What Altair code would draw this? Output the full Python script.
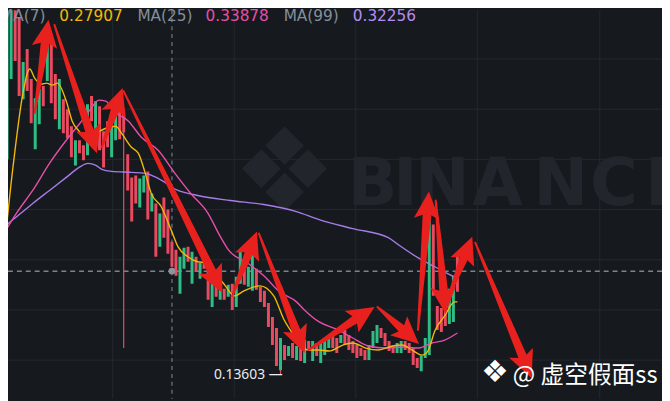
import math
import altair as alt
import pandas as pd

# ---------------- data ----------------
opens = [0.245, 0.350, 0.430, 0.515, 0.491, 0.410, 0.460, 0.430, 0.360, 0.385,
         0.423, 0.428, 0.469, 0.435, 0.380, 0.410, 0.400, 0.383, 0.344, 0.369,
         0.364, 0.354, 0.413, 0.376, 0.403, 0.378, 0.388, 0.352, 0.369, 0.400,
         0.399, 0.355, 0.332, 0.334, 0.302, 0.317, 0.338, 0.298, 0.306, 0.263,
         0.312, 0.300, 0.268, 0.260, 0.216, 0.241, 0.263, 0.226, 0.253, 0.231,
         0.260, 0.240, 0.203, 0.226, 0.210, 0.221, 0.213, 0.226, 0.203, 0.226,
         0.241, 0.223, 0.219, 0.241, 0.223, 0.219, 0.207, 0.193, 0.182, 0.140,
         0.165, 0.154, 0.167, 0.150, 0.164, 0.147, 0.169, 0.149, 0.167, 0.147,
         0.155, 0.162, 0.177, 0.172, 0.167, 0.180, 0.175, 0.169, 0.165, 0.162,
         0.160, 0.150, 0.162, 0.167, 0.182, 0.177, 0.169, 0.164, 0.157, 0.157,
         0.169, 0.167, 0.162, 0.152, 0.139, 0.152, 0.155, 0.285, 0.204, 0.202,
         0.209, 0.186, 0.188, 0.253]
closes = [0.400, 0.515, 0.515, 0.448, 0.413, 0.447, 0.418, 0.386, 0.411, 0.420,
          0.403, 0.464, 0.406, 0.390, 0.430, 0.376, 0.371, 0.352, 0.369, 0.356,
          0.349, 0.405, 0.388, 0.408, 0.359, 0.342, 0.362, 0.385, 0.405, 0.370,
          0.377, 0.319, 0.288, 0.306, 0.331, 0.334, 0.290, 0.316, 0.253, 0.296,
          0.272, 0.256, 0.243, 0.234, 0.253, 0.262, 0.248, 0.258, 0.238, 0.247,
          0.241, 0.210, 0.231, 0.213, 0.225, 0.210, 0.225, 0.200, 0.233, 0.259,
          0.225, 0.243, 0.255, 0.220, 0.208, 0.203, 0.183, 0.165, 0.144, 0.172,
          0.150, 0.164, 0.152, 0.164, 0.149, 0.170, 0.159, 0.169, 0.154, 0.167,
          0.170, 0.175, 0.162, 0.157, 0.175, 0.165, 0.160, 0.157, 0.152, 0.154,
          0.150, 0.165, 0.179, 0.185, 0.172, 0.164, 0.159, 0.157, 0.167, 0.169,
          0.160, 0.157, 0.145, 0.142, 0.154, 0.172, 0.296, 0.214, 0.180, 0.178,
          0.184, 0.221, 0.234, 0.218]

wick_idx = [30, 69]
wick_high = [0.402, 0.172]
wick_low = [0.162, 0.13603]

ma7_i = [-0.74, 0.0, 2.46, 4.91, 6.63, 7.86, 9.58, 10.81, 12.29, 13.51, 15.72, 17.20,
         18.92, 20.64, 23.10, 25.55, 28.01, 29.48, 31.94, 33.66, 35.38, 36.86, 39.31,
         41.77, 43.49, 45.95, 48.40, 50.86, 53.32, 55.28, 57.49, 59.95, 63.88, 67.32,
         69.78, 72.24, 73.71, 76.17, 78.62, 81.08, 84.52, 86.98, 90.17, 93.37, 96.81,
         99.26, 101.72, 104.18, 105.65, 107.37, 109.83, 112.29, 113.0]
ma7_v = [0.230, 0.253, 0.342, 0.415, 0.440, 0.431, 0.425, 0.426, 0.424, 0.426, 0.408, 0.388,
         0.378, 0.371, 0.376, 0.381, 0.383, 0.376, 0.362, 0.356, 0.336, 0.316, 0.303,
         0.280, 0.263, 0.253, 0.248, 0.247, 0.234, 0.224, 0.214, 0.219, 0.224, 0.214,
         0.191, 0.175, 0.165, 0.160, 0.160, 0.159, 0.165, 0.167, 0.162, 0.160, 0.164,
         0.165, 0.160, 0.155, 0.159, 0.179, 0.194, 0.208, 0.208]

ma25_i = [-0.74, 3.44, 7.37, 11.55, 15.72, 18.92, 21.38, 23.83, 25.55, 27.52, 31.2,
          34.4, 38.57, 42.75, 46.68, 50.86, 54.05, 56.0, 60.69, 64.86, 68.80, 72.97,
          74.69, 78.62, 82.80, 86.98, 90.91, 95.09, 99.26, 103.19, 106.63, 109.83, 113.0]
ma25_v = [0.270, 0.297, 0.319, 0.346, 0.369, 0.385, 0.398, 0.409, 0.408, 0.398, 0.388,
          0.372, 0.359, 0.336, 0.316, 0.297, 0.273, 0.260, 0.247, 0.234, 0.218, 0.208,
          0.201, 0.188, 0.181, 0.172, 0.164, 0.162, 0.163, 0.162, 0.167, 0.170, 0.177]

ma99_i = [-0.74, 3.44, 7.37, 11.55, 15.72, 18.92, 21.13, 23.10, 24.57, 27.03, 31.94,
          35.38, 38.57, 43.49, 48.40, 56.51, 64.86, 72.97, 78.62, 86.98, 95.82, 98.28,
          103.19, 107.37, 112.29, 113.0]
ma99_v = [0.280, 0.293, 0.306, 0.319, 0.332, 0.342, 0.346, 0.344, 0.340, 0.338, 0.337,
          0.336, 0.331, 0.319, 0.314, 0.309, 0.305, 0.298, 0.290, 0.281, 0.272, 0.265,
          0.252, 0.243, 0.233, 0.232]

# hand-drawn red arrows: tail (index, price) -> tip (index, price)
arrow_x0 = [7.86, 12.78, 24.57, 29.98, 57.0, 63.64, 75.92, 93.12, 103.19, 107.6, 110.57, 117.44]
arrow_y0 = [0.396, 0.484, 0.362, 0.418, 0.214, 0.276, 0.160, 0.203, 0.180, 0.309, 0.211, 0.267]
arrow_x1 = [11.3, 23.34, 29.73, 54.55, 63.14, 75.0, 92.38, 103.44, 105.9, 110.07, 116.7, 131.45]
arrow_y1 = [0.489, 0.356, 0.421, 0.217, 0.278, 0.157, 0.203, 0.166, 0.318, 0.196, 0.273, 0.132]

price_grid = [0.15, 0.20, 0.25, 0.30, 0.35, 0.40, 0.45]
time_grid = [27.27, 57.49, 87.72, 117.94, 148.4]
cross_i = 42
cross_price = 0.2386
low_label = "0.13603 —"

legend_txt = ["MA(7)", "0.27907", "MA(25)", "0.33878", "MA(99)", "0.32256"]
wm_letters = ["B", "I", "N", "A", "N", "C", "E"]

# ---------------- styling ----------------
BG = "#161a1e"
GRID = "#252930"
UP = "#2ebd85"
DOWN = "#ea4a60"
C7, C25, C99 = "#f0b90b", "#e64ea9", "#a77be8"
ARROW = "#e8211e"
W, H = 662, 393
PX_I, PX_P = 4.07, 1016.0
HEAD_LEN = 28.0
HEAD_PATH = "M0,0 L0.82,1.75 L0,1.4 L-0.82,1.75 Z"

xs = alt.Scale(domain=[1.2285, 163.88], nice=False, zero=False)
ys = alt.Scale(domain=[0.11161, 0.49843], nice=False, zero=False)

n = len(opens)
cdf = pd.DataFrame({"i": list(range(n)), "open": opens, "close": closes})
cdf["dir"] = ["up" if c >= o else "down" for o, c in zip(opens, closes)]
wdf = pd.DataFrame({"i": wick_idx, "hi": wick_high, "lo": wick_low})


def ma_df(ii, vv):
    return pd.DataFrame({"i": ii, "v": vv})


# arrows: tapered shaft (trail) + rotated head (custom symbol)
rows, heads = [], []
for a, (x0, y0, x1, y1) in enumerate(zip(arrow_x0, arrow_y0, arrow_x1, arrow_y1)):
    sx = (x1 - x0) * PX_I
    sy = -(y1 - y0) * PX_P
    L = math.hypot(sx, sy)
    f = max(0.0, 1 - (HEAD_LEN * 0.75) / L)
    rows.append((a, 0, x0, y0, 2.0))
    rows.append((a, 1, x0 + (x1 - x0) * f, y0 + (y1 - y0) * f, 9.0))
    ang = math.degrees(math.atan2(sx, -sy)) % 360
    heads.append((a, x1, y1, ang))
adf = pd.DataFrame(rows, columns=["a", "k", "x", "y", "w"])
hdf = pd.DataFrame(heads, columns=["a", "x", "y", "ang"])

one = pd.DataFrame({"z": [0]})

vgrid = alt.Chart(pd.DataFrame({"i": time_grid})).mark_rule(color=GRID, strokeWidth=1).encode(
    x=alt.X("i:Q", scale=xs, axis=None))
hgrid = alt.Chart(pd.DataFrame({"p": price_grid})).mark_rule(color=GRID, strokeWidth=1).encode(
    y=alt.Y("p:Q", scale=ys, axis=None))

wm_x = [344, 390, 412, 470, 532, 589, 645]
wm_text = alt.Chart(pd.DataFrame({"t": wm_letters, "x": wm_x})).mark_text(
    font="DejaVu Sans", fontWeight="bold", fontSize=66, color="#22262c", align="left",
    baseline="alphabetic").encode(x=alt.X("x:Q", scale=None), y=alt.value(197), text="t:N")
wm_logo = alt.Chart(one).mark_text(text="❖", font="DejaVu Sans", fontSize=118,
                                   color="#22262c", align="center",
                                   baseline="middle").encode(x=alt.value(280), y=alt.value(168))

cross_v = alt.Chart(pd.DataFrame({"i": [cross_i]})).mark_rule(
    color="#5e6673", strokeWidth=1.5, strokeDash=[4, 4]).encode(x=alt.X("i:Q", scale=xs, axis=None))
cross_h = alt.Chart(pd.DataFrame({"p": [cross_price]})).mark_rule(
    color="#7d838c", strokeWidth=1.5, strokeDash=[5, 4]).encode(y=alt.Y("p:Q", scale=ys, axis=None))
cross_dot = alt.Chart(pd.DataFrame({"i": [cross_i], "p": [cross_price]})).mark_circle(
    size=45, color="#8e949c", opacity=1).encode(
    x=alt.X("i:Q", scale=xs, axis=None), y=alt.Y("p:Q", scale=ys, axis=None))

wicks = alt.Chart(wdf).mark_rule(strokeWidth=1.2, clip=True).encode(
    x=alt.X("i:Q", scale=xs, axis=None),
    y=alt.Y("lo:Q", scale=ys, axis=None), y2="hi:Q",
    color=alt.value(DOWN))
bodies = alt.Chart(cdf).mark_rule(strokeWidth=3, clip=True).encode(
    x=alt.X("i:Q", scale=xs, axis=None),
    y=alt.Y("open:Q", scale=ys, axis=None), y2="close:Q",
    color=alt.Color("dir:N", scale=alt.Scale(domain=["up", "down"], range=[UP, DOWN]), legend=None))


def ma_line(ii, vv, col):
    return alt.Chart(ma_df(ii, vv)).mark_line(strokeWidth=1.4, color=col, clip=True,
                                              interpolate="monotone").encode(
        x=alt.X("i:Q", scale=xs, axis=None), y=alt.Y("v:Q", scale=ys, axis=None))


l99 = ma_line(ma99_i, ma99_v, C99)
l25 = ma_line(ma25_i, ma25_v, C25)
l7 = ma_line(ma7_i, ma7_v, C7)

low_lbl = alt.Chart(pd.DataFrame({"i": [69], "p": [0.13603], "t": [low_label]})).mark_text(
    align="right", baseline="middle", dx=2, dy=1, fontSize=14, font="Noto Sans",
    color="#eaecef").encode(x=alt.X("i:Q", scale=xs, axis=None),
                            y=alt.Y("p:Q", scale=ys, axis=None), text="t:N")

shafts = alt.Chart(adf).mark_trail(color=ARROW, clip=True).encode(
    x=alt.X("x:Q", scale=xs, axis=None), y=alt.Y("y:Q", scale=ys, axis=None),
    size=alt.Size("w:Q", scale=None), detail="a:N", order="k:Q")
arrow_heads = alt.Chart(hdf).mark_point(shape=HEAD_PATH, filled=True, color=ARROW, opacity=1,
                                        size=1000, strokeWidth=0).encode(
    x=alt.X("x:Q", scale=xs, axis=None), y=alt.Y("y:Q", scale=ys, axis=None),
    angle=alt.Angle("ang:Q", scale=None))

leg_x = [-8, 52, 131, 200, 279, 349]
leg_c = ["#848e9c", C7, "#848e9c", C25, "#848e9c", "#b48cf2"]
leg = alt.Chart(pd.DataFrame({"t": legend_txt, "x": leg_x, "c": leg_c})).mark_text(
    align="left", baseline="alphabetic", fontSize=15.5, font="DejaVu Sans").encode(
    x=alt.X("x:Q", scale=None), y=alt.value(11), text="t:N", color=alt.Color("c:N", scale=None))

sig_logo = alt.Chart(one).mark_text(text="❖", font="DejaVu Sans", fontSize=31, color="#ffffff",
                                    align="center", baseline="middle").encode(
    x=alt.value(493), y=alt.value(367))
sig = alt.Chart(one).mark_text(text="@ 虚空假面ss", font="Noto Sans CJK SC", fontSize=24,
                               color="#ffffff", align="left", baseline="alphabetic").encode(
    x=alt.value(511), y=alt.value(377))

chart = alt.layer(
    vgrid, hgrid, wm_text, wm_logo, cross_v, cross_h, wicks, bodies,
    l99, l25, l7, cross_dot, low_lbl, shafts, arrow_heads, leg, sig_logo, sig
).properties(
    width=W, height=H, background=BG, padding=0,
    autosize=alt.AutoSizeParams(type="none")
).configure_view(stroke=None)

chart.save("out.html", embed_options={"renderer": "svg", "actions": False})
